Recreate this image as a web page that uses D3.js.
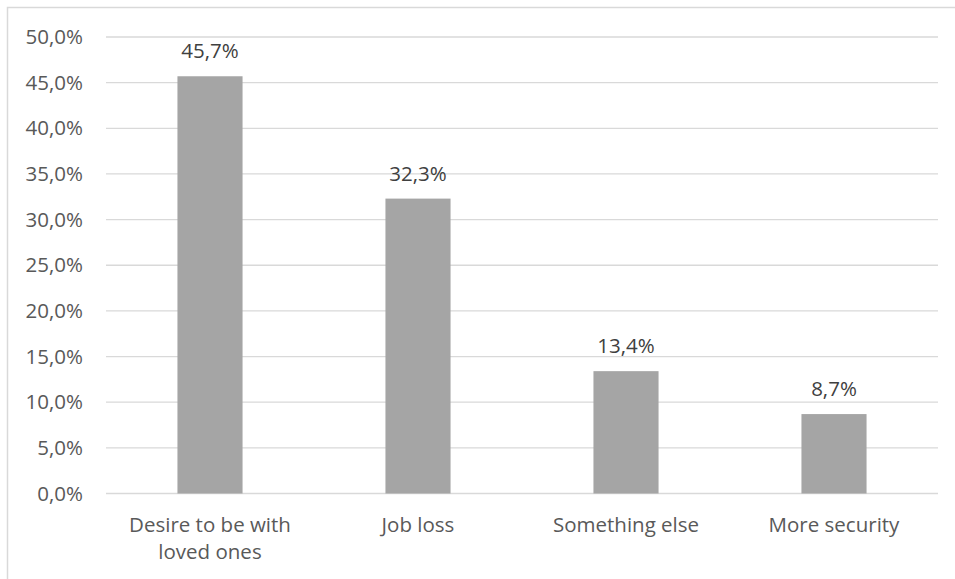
<!DOCTYPE html>
<html>
<head>
<meta charset="utf-8">
<script src="https://cdn.jsdelivr.net/npm/d3@7"></script>
<style>
  body { margin: 0; background: #fff; }
  svg { display: block; font-family: "Open Sans", sans-serif; }
</style>
</head>
<body>
<div id="chart"></div>
<script>
// datos
const categories = [["Desire to be with", "loved ones"], ["Job loss"], ["Something else"], ["More security"]];
const values = [45.7, 32.3, 13.4, 8.7];
const ticks = [0, 5, 10, 15, 20, 25, 30, 35, 40, 45, 50];

const width = 955, height = 579;
const margin = { left: 106, right: 17, top: 37, bottom: 86 };
const fontSize = 20.5;
const fmt = v => d3.format(".1f")(v).replace(".", ",") + "%";

const svg = d3.select("#chart").append("svg")
    .attr("width", width)
    .attr("height", height);

// marco del gráfico
svg.append("path")
    .attr("d", `M7.5,${height} V7.5 H${width}`)
    .attr("fill", "none")
    .attr("stroke", "#d9d9d9")
    .attr("stroke-width", 1.5);

const x = d3.scaleBand()
    .domain(d3.range(categories.length))
    .range([margin.left, width - margin.right]);

const y = d3.scaleLinear()
    .domain([0, 50])
    .range([height - margin.bottom + 0.5, margin.top]);

// rejilla
svg.append("g")
    .selectAll("line")
    .data(ticks)
    .join("line")
    .attr("x1", margin.left)
    .attr("x2", width - margin.right)
    .attr("y1", d => y(d))
    .attr("y2", d => y(d))
    .attr("stroke", "#d9d9d9")
    .attr("stroke-width", 1.3);

// etiquetas del eje y
svg.append("g")
    .selectAll("text")
    .data(ticks)
    .join("text")
    .attr("x", 83)
    .attr("y", d => y(d) + 7)
    .attr("text-anchor", "end")
    .attr("font-size", fontSize)
    .attr("fill", "#595959")
    .text(fmt);

// barras
const barW = x.bandwidth() * 0.313;
svg.append("g")
    .selectAll("rect")
    .data(values)
    .join("rect")
    .attr("x", (d, i) => x(i) + x.bandwidth() / 2 - barW / 2)
    .attr("width", barW)
    .attr("y", d => y(d))
    .attr("height", d => y(0) - y(d))
    .attr("fill", "#a5a5a5");

// valores encima de cada barra
svg.append("g")
    .selectAll("text")
    .data(values)
    .join("text")
    .attr("x", (d, i) => x(i) + x.bandwidth() / 2)
    .attr("y", d => y(d) - 18)
    .attr("text-anchor", "middle")
    .attr("font-size", fontSize)
    .attr("fill", "#404040")
    .text(fmt);

// categorías
const cat = svg.append("g")
    .selectAll("text")
    .data(categories)
    .join("text")
    .attr("x", (d, i) => x(i) + x.bandwidth() / 2)
    .attr("y", 532)
    .attr("text-anchor", "middle")
    .attr("font-size", fontSize)
    .attr("fill", "#595959");
cat.selectAll("tspan")
    .data(d => d)
    .join("tspan")
    .attr("x", function () { return this.parentNode.getAttribute("x"); })
    .attr("dy", (d, i) => i === 0 ? 0 : 27)
    .text(d => d);
</script>
</body>
</html>
